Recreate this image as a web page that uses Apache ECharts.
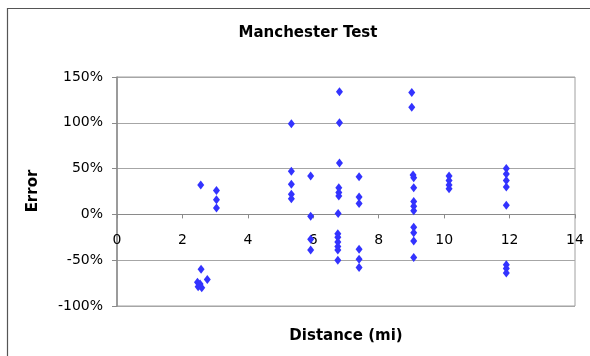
<!DOCTYPE html>
<html>
<head>
<meta charset="utf-8">
<script src="https://cdn.jsdelivr.net/npm/echarts@6/dist/echarts.min.js"></script>
<style>
  html, body { margin: 0; padding: 0; background: #fff; }
  #chart { width: 590px; height: 356px; }
</style>
</head>
<body>
<div id="chart"></div>
<script>
// Manchester test: prediction error vs. distance
const distanceMi = [
  2.56, 3.04, 3.04, 3.04,
  2.57, 2.76, 2.46, 2.54, 2.48, 2.59, 2.52,
  5.33, 5.33, 5.33, 5.33, 5.33,
  5.92, 5.92, 5.92, 5.92,
  6.80, 6.80, 6.80, 6.78, 6.78, 6.78, 6.76, 6.75, 6.75, 6.75, 6.75, 6.75, 6.75,
  7.40, 7.40, 7.40, 7.40, 7.40, 7.40,
  9.01, 9.01, 9.05, 9.07, 9.07, 9.07, 9.07, 9.07, 9.07, 9.07, 9.07, 9.07,
  10.15, 10.15, 10.15, 10.15,
  11.90, 11.90, 11.90, 11.90, 11.90, 11.90, 11.90, 11.90
];
const errorPct = [
  32, 26, 16, 7,
  -60, -71, -74, -76, -79, -80, -77,
  99, 47, 33, 22, 17,
  42, -2, -27, -39,
  134, 100, 56, 29, 24, 20, 1, -21, -25, -30, -35, -39, -50,
  41, 19, 12, -38, -49, -58,
  133, 117, 43, 40, 29, 14, 9, 4, -14, -20, -29, -47,
  42, 37, 32, 28,
  50, 44, 37, 30, 10, -55, -59, -64
];
const yTicks = { min: -100, max: 150, step: 50 };
const xTicks = { min: 0, max: 14, step: 2 };

const points = distanceMi.map((d, i) => [d, errorPct[i]]);
const FONT = 'DejaVu Sans';

// plot box
const GRID = { left: 117, right: 15, top: 77, bottom: 50 };
const plotHeight = 356 - GRID.top - GRID.bottom;
// lift the distance axis up to the 0% line
const zeroLift = plotHeight * (0 - yTicks.min) / (yTicks.max - yTicks.min);

const chart = echarts.init(document.getElementById('chart'), null, { renderer: 'canvas' });
chart.setOption({
  animation: false,
  backgroundColor: '#ffffff',
  title: {
    text: 'Manchester Test',
    left: 303,
    top: 21,
    textAlign: 'center',
    textStyle: { fontFamily: FONT, fontWeight: 'bold', fontSize: 15, color: '#000' }
  },
  grid: Object.assign({
    show: true, borderColor: '#a0a0a0', borderWidth: 1, backgroundColor: '#fff'
  }, GRID),
  xAxis: {
    type: 'value',
    position: 'bottom',
    offset: -zeroLift,
    min: xTicks.min, max: xTicks.max, interval: xTicks.step,
    axisLine: { show: true, onZero: false, lineStyle: { color: '#8a8a8a', width: 1 } },
    axisTick: { show: true, inside: false, length: 4, lineStyle: { color: '#8a8a8a' } },
    axisLabel: { margin: 19, fontFamily: FONT, fontSize: 14, color: '#000' },
    splitLine: { show: false }
  },
  yAxis: {
    type: 'value',
    min: yTicks.min, max: yTicks.max, interval: yTicks.step,
    axisLine: { show: true, onZero: false, lineStyle: { color: '#8a8a8a', width: 1.5 } },
    axisTick: { show: true, inside: false, length: 5, lineStyle: { color: '#8a8a8a' } },
    axisLabel: { margin: 14, fontFamily: FONT, fontSize: 14, color: '#000', formatter: '{value}%' },
    splitLine: { show: true, lineStyle: { color: '#a6a6a6', width: 1 } }
  },
  graphic: [
    {
      type: 'rect', silent: true, z: -1,
      shape: { x: 7.5, y: 8.5, width: 700, height: 500 },
      style: { fill: null, stroke: '#555', lineWidth: 1.2 }
    },
    {
      type: 'text', x: 346, y: 336,
      style: { text: 'Distance (mi)', fontFamily: FONT, fontWeight: 'bold', fontSize: 15,
               fill: '#000', textAlign: 'center', textVerticalAlign: 'middle' }
    },
    {
      type: 'text', x: 33, y: 191, rotation: Math.PI / 2,
      style: { text: 'Error', fontFamily: FONT, fontWeight: 'bold', fontSize: 15,
               fill: '#000', textAlign: 'center', textVerticalAlign: 'middle' }
    }
  ],
  series: [{
    type: 'scatter',
    data: points,
    symbol: 'diamond',
    symbolSize: [7, 9],
    itemStyle: { color: '#3333ff', opacity: 1 }
  }]
});
</script>
</body>
</html>
